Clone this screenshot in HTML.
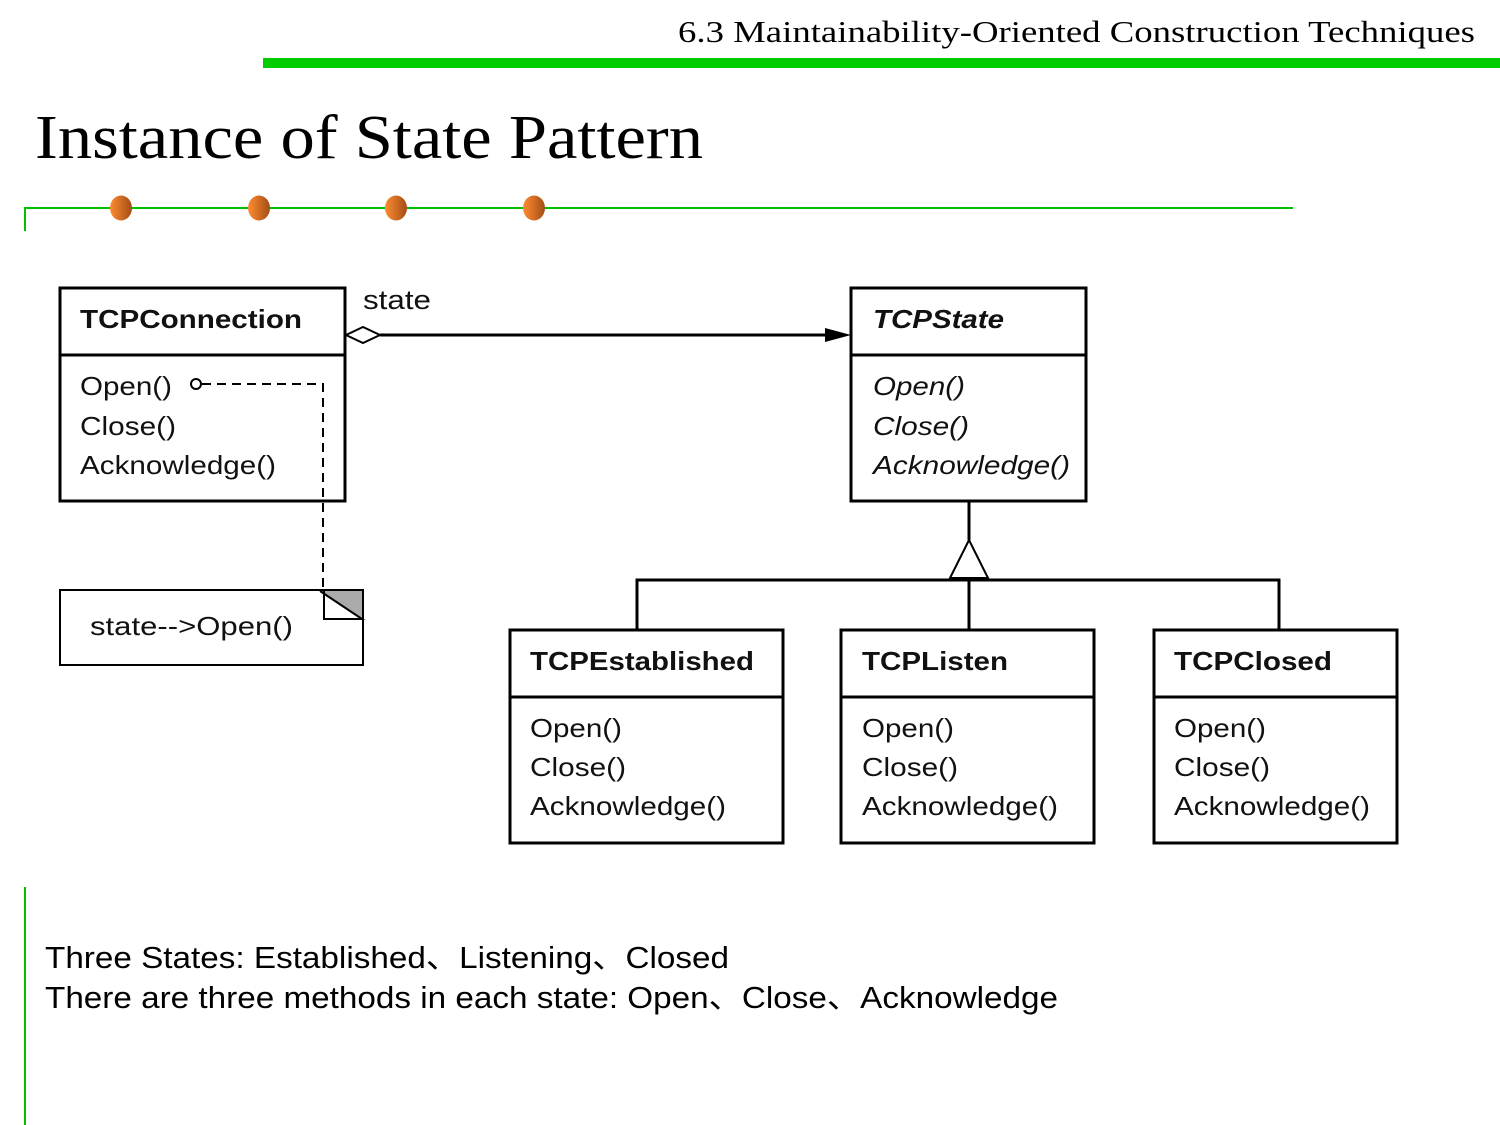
<!DOCTYPE html>
<html><head><meta charset="utf-8"><style>
html,body{margin:0;padding:0;background:#fff;width:1500px;height:1125px;overflow:hidden}
svg{display:block}
.s{font-family:"Liberation Sans","Noto Sans CJK SC",sans-serif;fill:#111}
.t{font-family:"Liberation Serif",serif;fill:#000}
</style></head><body>
<svg width="1500" height="1125" viewBox="0 0 1500 1125" xmlns="http://www.w3.org/2000/svg">
<defs><linearGradient id="g" x1="0" x2="1"><stop offset="0" stop-color="#ff8c33"/><stop offset="1" stop-color="#a34d14"/></linearGradient></defs>
<text class="t" x="678" y="42" font-size="31" textLength="797" lengthAdjust="spacingAndGlyphs">6.3 Maintainability-Oriented Construction Techniques</text>
<rect x="263" y="58" width="1237" height="10" fill="#00cc00"/>
<text class="t" x="35" y="158" font-size="62" textLength="668" lengthAdjust="spacingAndGlyphs">Instance of State Pattern</text>
<path d="M25 231V208H1293" stroke="#00c000" stroke-width="2" fill="none"/>
<g fill="url(#g)"><ellipse cx="121" cy="208" rx="11" ry="12.5"/><ellipse cx="259" cy="208" rx="11" ry="12.5"/><ellipse cx="396" cy="208" rx="11" ry="12.5"/><ellipse cx="534" cy="208" rx="11" ry="12.5"/></g>
<line x1="25" y1="887" x2="25" y2="1125" stroke="#00c000" stroke-width="2"/>
<g stroke="#000" stroke-width="3" fill="none">
<rect x="60" y="288" width="285" height="213"/><line x1="60" y1="355" x2="345" y2="355"/>
<rect x="851" y="288" width="235" height="213"/><line x1="851" y1="355" x2="1086" y2="355"/>
<rect x="60" y="590" width="303" height="75" stroke-width="2"/>
<rect x="510" y="630" width="273" height="213"/><line x1="510" y1="697" x2="783" y2="697"/>
<rect x="841" y="630" width="253" height="213"/><line x1="841" y1="697" x2="1094" y2="697"/>
<rect x="1154" y="630" width="243" height="213"/><line x1="1154" y1="697" x2="1397" y2="697"/>
<path d="M380 335H830"/>
<path d="M969 501V540M637 630V580H1279V630M969 580V630"/>
</g>
<path d="M346 335L363 327L380 335L363 343Z" fill="#fff" stroke="#000" stroke-width="2"/>
<path d="M825 328L851 335L825 342Z" fill="#000"/>
<path d="M969 540L988 578H950Z" fill="#fff" stroke="#000" stroke-width="2"/>
<path d="M320 591H362V619Z" fill="#aaa"/>
<path d="M320 591L362 619H324V591" fill="none" stroke="#000" stroke-width="2"/>
<circle cx="196" cy="384" r="5" fill="#fff" stroke="#000" stroke-width="2"/>
<path d="M202 384H323V590" stroke="#000" stroke-width="2" stroke-dasharray="9,6" fill="none"/>
<text class="s" x="363" y="309" font-size="27" textLength="68" lengthAdjust="spacingAndGlyphs">state</text>
<g class="s" font-size="26" lengthAdjust="spacingAndGlyphs">
<text x="80" y="328" font-weight="bold" textLength="222" lengthAdjust="spacingAndGlyphs">TCPConnection</text>
<text x="80" y="395" textLength="92" lengthAdjust="spacingAndGlyphs">Open()</text><text x="80" y="435" textLength="96" lengthAdjust="spacingAndGlyphs">Close()</text><text x="80" y="474" textLength="196" lengthAdjust="spacingAndGlyphs">Acknowledge()</text>
<g font-style="italic"><text x="873" y="328" font-weight="bold" textLength="131" lengthAdjust="spacingAndGlyphs">TCPState</text>
<text x="873" y="395" textLength="92" lengthAdjust="spacingAndGlyphs">Open()</text><text x="873" y="435" textLength="96" lengthAdjust="spacingAndGlyphs">Close()</text><text x="873" y="474" textLength="197" lengthAdjust="spacingAndGlyphs">Acknowledge()</text></g>
<text x="90" y="635" textLength="203" lengthAdjust="spacingAndGlyphs">state-->Open()</text>
<text x="530" y="670" font-weight="bold" textLength="224" lengthAdjust="spacingAndGlyphs">TCPEstablished</text>
<text x="530" y="737" textLength="92" lengthAdjust="spacingAndGlyphs">Open()</text><text x="530" y="776" textLength="96" lengthAdjust="spacingAndGlyphs">Close()</text><text x="530" y="815" textLength="196" lengthAdjust="spacingAndGlyphs">Acknowledge()</text>
<text x="862" y="670" font-weight="bold" textLength="146" lengthAdjust="spacingAndGlyphs">TCPListen</text>
<text x="862" y="737" textLength="92" lengthAdjust="spacingAndGlyphs">Open()</text><text x="862" y="776" textLength="96" lengthAdjust="spacingAndGlyphs">Close()</text><text x="862" y="815" textLength="196" lengthAdjust="spacingAndGlyphs">Acknowledge()</text>
<text x="1174" y="670" font-weight="bold" textLength="158" lengthAdjust="spacingAndGlyphs">TCPClosed</text>
<text x="1174" y="737" textLength="92" lengthAdjust="spacingAndGlyphs">Open()</text><text x="1174" y="776" textLength="96" lengthAdjust="spacingAndGlyphs">Close()</text><text x="1174" y="815" textLength="196" lengthAdjust="spacingAndGlyphs">Acknowledge()</text>
</g>
<g class="s" font-size="31" style="fill:#000">
<text x="45" y="968" textLength="684" lengthAdjust="spacingAndGlyphs">Three States: Established、Listening、Closed</text>
<text x="45" y="1008" textLength="1013" lengthAdjust="spacingAndGlyphs">There are three methods in each state: Open、Close、Acknowledge</text>
</g>
</svg>
</body></html>
